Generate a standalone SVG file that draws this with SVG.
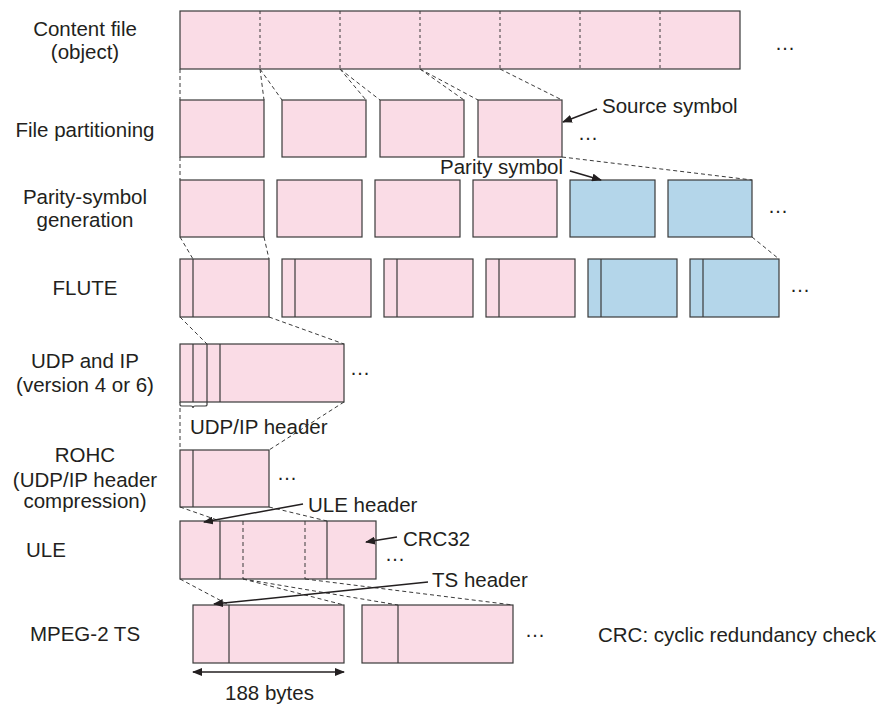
<svg xmlns="http://www.w3.org/2000/svg" width="883" height="704" viewBox="0 0 883 704">
<style>
text{font-family:"Liberation Sans",Arial,sans-serif;font-size:20.5px;fill:#231f20}
.lbl{text-anchor:middle}
.p{fill:#fadce6;stroke:#3a3a3a;stroke-width:1.2}
.b{fill:#b4d6ea;stroke:#3a3a3a;stroke-width:1.2}
.div{stroke:#3a3a3a;stroke-width:1.2;fill:none}
.dot{stroke:#3a3a3a;stroke-width:1;stroke-dasharray:3 3;fill:none}
.dash{stroke:#3a3a3a;stroke-width:1;stroke-dasharray:4 3;fill:none}
.arr{stroke:#231f20;stroke-width:1.5;fill:none;marker-end:url(#ah)}
.ell{text-anchor:middle}
</style>
<defs>
<marker id="ah" viewBox="0 0 10 8" refX="9" refY="4" markerWidth="10" markerHeight="8" markerUnits="userSpaceOnUse" orient="auto-start-reverse">
<path d="M0,0 L10,4 L0,8 z" fill="#231f20"/>
</marker>
</defs>

<g id="labels">
<text class="lbl" x="85" y="36">Content file</text>
<text class="lbl" x="85" y="59">(object)</text>
<text class="lbl" x="85" y="137">File partitioning</text>
<text class="lbl" x="85" y="204">Parity-symbol</text>
<text class="lbl" x="85" y="227">generation</text>
<text class="lbl" x="85" y="295">FLUTE</text>
<text class="lbl" x="85" y="368">UDP and IP</text>
<text class="lbl" x="85" y="392">(version 4 or 6)</text>
<text class="lbl" x="85" y="462">ROHC</text>
<text class="lbl" x="85" y="487">(UDP/IP header</text>
<text class="lbl" x="85" y="508">compression)</text>
<text x="26" y="557">ULE</text>
<text class="lbl" x="85" y="641">MPEG-2 TS</text>
</g>

<g id="content-file">
<rect class="p" x="180" y="11" width="560" height="58"/>
<path class="dot" d="M260,11V69M340,11V69M420,11V69M500,11V69M580,11V69M660,11V69"/>
<text class="ell" x="785" y="50">…</text>
</g>

<g id="file-partitioning">
<rect class="p" x="180" y="100" width="84" height="57"/>
<rect class="p" x="282" y="100" width="84" height="57"/>
<rect class="p" x="380" y="100" width="84" height="57"/>
<rect class="p" x="478" y="100" width="84" height="57"/>
<text class="ell" x="588" y="140">…</text>
<text x="602" y="113">Source symbol</text>
</g>

<g id="parity-symbol-generation">
<rect class="p" x="180" y="180" width="84" height="57"/>
<rect class="p" x="277" y="180" width="85" height="57"/>
<rect class="p" x="375" y="180" width="85" height="57"/>
<rect class="p" x="473" y="180" width="84" height="57"/>
<rect class="b" x="570" y="180" width="85" height="57"/>
<rect class="b" x="668" y="180" width="84" height="57"/>
<text class="ell" x="778" y="213">…</text>
<text x="440" y="174">Parity symbol</text>
</g>

<g id="flute">
<rect class="p" x="180" y="259" width="89" height="58"/>
<rect class="p" x="282" y="259" width="89" height="58"/>
<rect class="p" x="384" y="259" width="89" height="58"/>
<rect class="p" x="486" y="259" width="89" height="58"/>
<rect class="b" x="588" y="259" width="89" height="58"/>
<rect class="b" x="690" y="259" width="89" height="58"/>
<path class="div" d="M193,259V317M295,259V317M397,259V317M499,259V317M601,259V317M703,259V317"/>
<text class="ell" x="800" y="292">…</text>
</g>

<g id="udp-ip">
<rect class="p" x="180" y="344" width="164" height="58"/>
<path class="div" d="M193,344V402M207,344V402M220,344V402"/>
<path class="div" d="M180,402V405Q180,406 182,406H191Q193,406 193,408Q193,406 195,406H205Q207,406 207,405V402" stroke-width="1"/>
<text class="ell" x="360" y="375">…</text>
<text x="190" y="434">UDP/IP header</text>
</g>

<g id="rohc">
<rect class="p" x="180" y="450" width="89" height="57"/>
<path class="div" d="M193,450V507"/>
<text class="ell" x="287" y="480">…</text>
</g>

<g id="ule">
<rect class="p" x="180" y="521" width="196" height="58"/>
<path class="div" d="M220,521V579M327,521V579"/>
<path class="dash" d="M243,521V579M305,521V579"/>
<text class="ell" x="395" y="561">…</text>
<text x="308" y="512">ULE header</text>
<text x="403" y="546">CRC32</text>
</g>

<g id="mpeg2-ts">
<rect class="p" x="193" y="605" width="151" height="58"/>
<rect class="p" x="362" y="605" width="151" height="58"/>
<path class="div" d="M229,605V663M398,605V663"/>
<text class="ell" x="535" y="637">…</text>
<text x="432" y="587">TS header</text>
<text x="225" y="700">188 bytes</text>
<text x="598" y="642">CRC: cyclic redundancy check</text>
</g>

<g id="connectors">
<path class="dash" d="M180,69V100M260,69L264,100M260,69L282,100M340,69L366,100M340,69L380,100M420,69L464,100M420,69L478,100M500,69L562,100"/>
<path class="dash" d="M180,157V180M562,157L752,180"/>
<path class="dash" d="M180,237L193,259M264,237L269,259M752,237L779,259"/>
<path class="dash" d="M180,317L207,344M269,317L344,344"/>
<path class="dash" d="M180,408V450M344,402L269,450"/>
<path class="dash" d="M180,507L220,521M269,507L327,521"/>
<path class="dash" d="M180,579L229,605M243,579L344,605M243,579L398,605M305,579L513,605"/>
<path class="arr" d="M597,109L563,122"/>
<path class="arr" d="M570,171L601,180"/>
<path class="arr" d="M303,504L204,522"/>
<path class="arr" d="M397,537L366,542"/>
<path class="arr" d="M428,582L214,604"/>
<path class="arr" d="M193,672H344" style="marker-start:url(#ah)"/>
</g>
</svg>
